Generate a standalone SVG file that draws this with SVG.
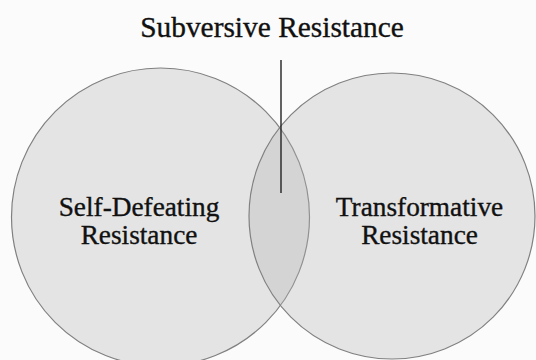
<svg xmlns="http://www.w3.org/2000/svg" width="536" height="360" viewBox="0 0 536 360">
  <style>
    .circle { fill: #b4b4b4; fill-opacity: 0.32; stroke: #808080; stroke-width: 1.2; }
    .label { font-family: "Liberation Serif", "Times New Roman", serif; fill: #111; stroke: #111; stroke-width: 0.35; text-anchor: middle; }
    .body { font-size: 27.3px; }
    .title { font-size: 29.4px; }
    .leader { stroke: #222; stroke-width: 1.4; fill: none; }
  </style>
  <rect x="0" y="0" width="536" height="360" fill="#fbfbfb"/>
  <g id="self-defeating">
    <circle class="circle" cx="160.5" cy="217" r="149"/>
    <text class="label body" x="139" y="216">Self-Defeating</text>
    <text class="label body" x="139" y="243.5">Resistance</text>
  </g>
  <g id="transformative">
    <circle class="circle" cx="392" cy="216" r="143"/>
    <text class="label body" x="419.5" y="216">Transformative</text>
    <text class="label body" x="419.5" y="243.5">Resistance</text>
  </g>
  <g id="subversive">
    <text class="label title" x="272" y="37">Subversive Resistance</text>
  </g>
  <g id="connectors">
    <line class="leader" x1="281" y1="60" x2="281" y2="193"/>
  </g>
</svg>
